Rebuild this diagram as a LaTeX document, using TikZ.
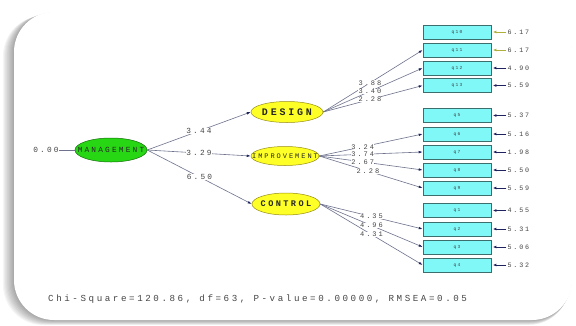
\documentclass[tikz,border=0pt]{standalone}
\usepackage{fontspec}
\usetikzlibrary{shapes.geometric,arrows.meta}
\newfontfamily\lisr[LetterSpace=28]{Liberation Mono}
\definecolor{mgreen}{RGB}{40,215,20}
\definecolor{mgreend}{RGB}{20,110,10}
\definecolor{myel}{RGB}{255,255,40}
\definecolor{myeld}{RGB}{150,140,20}
\definecolor{bcyan}{RGB}{128,248,248}
\definecolor{bcyand}{RGB}{60,110,110}
\definecolor{pline}{RGB}{110,114,140}
\definecolor{navy}{RGB}{30,35,95}
\definecolor{olive}{RGB}{175,175,60}
\definecolor{txt}{RGB}{70,70,70}
\begin{document}
\begin{tikzpicture}[x=1pt,y=-1pt,
  lat/.style={ellipse,draw,line width=0.5pt,inner sep=0pt},
  lattext/.style={text=black!85},
  obs/.style={rectangle,draw=bcyand,fill=bcyan,line width=0.6pt,minimum width=68pt,minimum height=14pt,inner sep=0pt,font=\lisr\fontsize{4.6}{5}\selectfont,text=black!75},
  errv/.style={anchor=west,inner sep=1pt,text=txt,font=\lisr\fontsize{6.7}{7}\selectfont},
  errl/.style={navy,line width=0.9pt,-{Latex[length=3.5pt,width=2.8pt]},shorten >=1.5pt},
  load/.style={pline,line width=0.6pt,-{Latex[length=4pt,width=2.6pt,color=navy]}},
  lbl/.style={fill=white,inner sep=0.2pt,text=txt,font=\lisr\fontsize{7}{7}\selectfont},
  mlbl/.style={fill=white,inner sep=0.6pt,text=txt,font=\lisr\fontsize{7.8}{8}\selectfont}]
\useasboundingbox (0,0) rectangle (576,325);
% shadow
\foreach \i in {1,...,10}{
  \fill[black,opacity=0.04,rounded corners=40pt] (14-\i*1.1,12+\i*0.4) rectangle (572-\i*0.3,320+\i*0.5);
}
\fill[white,rounded corners=40pt] (14,12) rectangle (572,320);
% latent variables
\node[lat,fill=mgreen,draw=mgreend,minimum width=72pt,minimum height=24pt,
  label={[lattext,font=\lisr\fontsize{7.8}{8}\selectfont]center:MANAGEMENT}] (m) at (111,150) {};
\node[lat,fill=myel,draw=myeld,minimum width=72pt,minimum height=21pt,
  label={[lattext,font=\lisr\bfseries\fontsize{10}{10}\selectfont]center:DESIGN}] (d) at (287,112) {};
\node[lat,fill=myel,draw=myeld,minimum width=68pt,minimum height=19pt,
  label={[lattext,font=\lisr\fontsize{7}{7}\selectfont]center:IMPROVEMENT}] (i) at (285,156) {};
\node[lat,fill=myel,draw=myeld,minimum width=68pt,minimum height=22pt,
  label={[lattext,font=\lisr\bfseries\fontsize{8.6}{9}\selectfont]center:CONTROL}] (c) at (286,204) {};
% observed
\node[obs] (q10) at (457,32) {q10};
\node[obs] (q11) at (457,50) {q11};
\node[obs] (q12) at (457,68) {q12};
\node[obs] (q13) at (457,85.5) {q13};
\node[obs] (q5) at (457,115.5) {q5};
\node[obs] (q6) at (457,134) {q6};
\node[obs] (q7) at (457,152) {q7};
\node[obs] (q8) at (457,170) {q8};
\node[obs] (q9) at (457,188) {q9};
\node[obs] (q1) at (457,210.5) {q1};
\node[obs] (q2) at (457,229) {q2};
\node[obs] (q3) at (457,247) {q3};
\node[obs] (q4) at (457,265) {q4};
% error variances
\foreach \q/\v/\col in {q10/6.17/olive,q11/6.17/olive,q12/4.90/navy,q13/5.59/navy,q5/5.37/navy,q6/5.16/navy,q7/1.98/navy,q8/5.50/navy,q9/5.59/navy,q1/4.55/navy,q2/5.31/navy,q3/5.06/navy,q4/5.32/navy}{
  \node[errv] (v\q) at ([xshift=15pt]\q.east) {\v};
  \draw[errl,\col] (v\q.west) -- (\q.east);
}
% zero
\node[mlbl] (z) at (46,150) {0.00};
\draw[pline,line width=0.6pt] (z.east) -- (m.west);
% structural paths
\draw[load] (m.east) -- node[mlbl,pos=0.5]{3.44} (d.west);
\draw[load] (m.east) -- node[mlbl,pos=0.5]{3.29} (i.west);
\draw[load] (m.east) -- node[mlbl,pos=0.5]{6.50} (c.west);
% loadings
\draw[load] (d.east) -- node[lbl,pos=0.47]{3.88} (q11.west);
\draw[load] (d.east) -- node[lbl,pos=0.47]{3.40} (q12.west);
\draw[load] (d.east) -- node[lbl,pos=0.47]{2.28} (q13.west);
\draw[load] (i.east) -- node[lbl,pos=0.42]{3.24} (q6.west);
\draw[load] (i.east) -- node[lbl,pos=0.42]{3.74} (q7.west);
\draw[load] (i.east) -- node[lbl,pos=0.42]{2.67} (q8.west);
\draw[load] (i.east) -- node[lbl,pos=0.47]{2.28} (q9.west);
\draw[load] (c.east) -- node[lbl,pos=0.5]{4.35} (q2.west);
\draw[load] (c.east) -- node[lbl,pos=0.5]{4.96} (q3.west);
\draw[load] (c.east) -- node[lbl,pos=0.5]{4.31} (q4.west);
% fit statistics
\node[anchor=west,inner sep=0pt,text=txt,font=\lisr\fontsize{9.2}{10}\selectfont] (fit) at (48,299) {Chi-Square=120.86, df=63, P-value=0.00000, RMSEA=0.05};
\end{tikzpicture}
\end{document}
